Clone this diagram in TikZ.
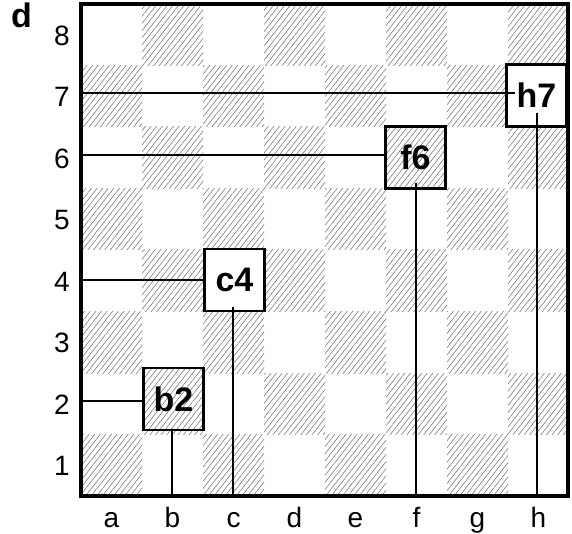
\documentclass[tikz,border=0pt]{standalone}
\usepackage{fontspec}
\setmainfont{Liberation Sans}
\usetikzlibrary{patterns.meta,calc}
\begin{document}
\begin{tikzpicture}[x=1pt,y=-1pt,
  hatch/.style={pattern={Lines[angle=52,distance=4.4pt,line width=0.55pt]},pattern color=black!55},
  lab/.style={font=\fontsize{28}{32}\selectfont, inner sep=0pt},
  ttl/.style={font=\fontsize{34}{38}\selectfont\bfseries, inner sep=0pt},
  sqbox/.style={draw, line width=2.2pt, minimum width=60pt, minimum height=62pt, inner sep=0pt,
    font=\fontsize{34}{38}\selectfont\bfseries},
  whitebox/.style={sqbox, fill=white},
  darkbox/.style={sqbox, preaction={fill=white}, hatch},
  conn/.style={line width=2.2pt},
  frame/.style={line width=4pt}
]
\useasboundingbox (0,0) rectangle (572,534);

% dark squares
\foreach \f in {1,...,8}{
  \foreach \r in {1,...,8}{
    \pgfmathtruncatemacro{\myparity}{mod(\f+\r,2)}
    \ifnum\myparity=0
      \fill[hatch] ({81+61*(\f-1)},{496-61.5*(\r-1)}) rectangle ++(61,-61.5);
    \fi
  }
}

% file and rank labels
\foreach \l [count=\i] in {a,b,c,d,e,f,g,h}
  \node[lab, anchor=base] (file\l) at ({81+61*(\i-0.5)},527) {\l};
\foreach \r in {1,...,8}
  \node[lab] (rank\r) at (62,{496-61.5*(\r-0.5)+1}) {\r};
\node[ttl, anchor=base] (title) at (21.5,28) {d};

% boxes
\node[whitebox] (h7) at (536.5,95.5) {h7};
\node[darkbox]  (f6) at (415.5,157.5) {f6};
\node[whitebox] (c4) at (234.5,280) {c4};
\node[darkbox]  (b2) at (173.5,399) {b2};

% connector end points
\coordinate (L7) at (81,93);   \coordinate (h7in) at (515,93);
\coordinate (h7dn) at (537,113); \coordinate (B7) at (537,496);
\coordinate (L6) at (81,155);
\coordinate (f6dn) at (416,183); \coordinate (B6) at (416,496);
\coordinate (L4) at (81,280);
\coordinate (c4dn) at (233,307); \coordinate (B4) at (233,496);
\coordinate (L2) at (81,401);
\coordinate (B2) at (172,496);

\draw[conn] (L7) -- (h7in);
\draw[conn] (h7dn) -- (B7);
\draw[conn] (L6) -- (L6 -| f6.west);
\draw[conn] (f6dn) -- (B6);
\draw[conn] (L4) -- (L4 -| c4.west);
\draw[conn] (c4dn) -- (B4);
\draw[conn] (L2) -- (L2 -| b2.west);
\draw[conn] (B2 |- b2.south) -- (B2);

% board frame
\draw[frame] (81,4) rectangle (568,496);
\end{tikzpicture}
\end{document}
